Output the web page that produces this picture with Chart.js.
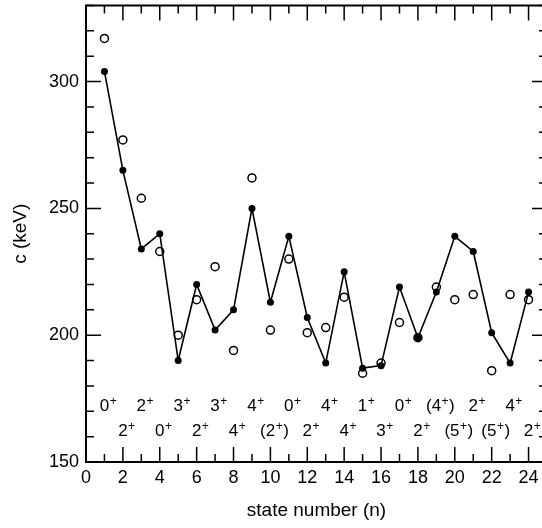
<!DOCTYPE html>
<html>
<head>
<meta charset="utf-8">
<script src="https://cdn.jsdelivr.net/npm/chart.js@4"></script>
<style>
  html, body { margin: 0; padding: 0; background: #fff; overflow: hidden; }
  #wrap { width: 560px; height: 528px; }
</style>
</head>
<body>
<div id="wrap"><canvas id="chart" width="560" height="528"></canvas></div>
<script>
// state numbers and the two sets of c values
const stateN = [1, 2, 3, 4, 5, 6, 7, 8, 9, 10, 11, 12, 13, 14, 15, 16, 17, 18, 19, 20, 21, 22, 23, 24];
const cFilled = [304, 265, 234, 240, 190, 220, 202, 210, 250, 213, 239, 207, 189, 225, 187, 188, 219, 199, 217, 239, 233, 201, 189, 217];
const cOpen = [317, 277, 254, 233, 200, 214, 227, 194, 262, 202, 230, 201, 203, 215, 185, 189, 205, 199, 219, 214, 216, 186, 216, 214];
// spin/parity of each state ('+' is drawn as superscript)
const spinLabels = ['0+', '2+', '2+', '0+', '3+', '2+', '3+', '4+', '4+', '(2+)', '0+', '2+',
  '4+', '4+', '1+', '3+', '0+', '2+', '(4+)', '(5+)', '2+', '(5+)', '4+', '2+'];
const xTicks = [0, 2, 4, 6, 8, 10, 12, 14, 16, 18, 20, 22, 24];
const yTicks = [150, 200, 250, 300];

const FONT = '"Liberation Sans", Arial, Helvetica, sans-serif';
Chart.defaults.font.family = FONT;
Chart.defaults.color = '#000';

// === spin labels under the curves ===
const spinPlugin = {
  id: 'spins',
  afterDatasetsDraw(chart) {
    const { ctx, scales: { x, y } } = chart;
    ctx.save();
    ctx.fillStyle = '#000';
    ctx.textBaseline = 'middle';
    ctx.textAlign = 'left';
    spinLabels.forEach((lab, i) => {
      const n = stateN[i];
      const px = x.getPixelForValue(n);
      const py = y.getPixelForValue(n % 2 ? 172 : 162);
      const d = lab.search(/\d/);
      ctx.font = '17px ' + FONT;
      let cx = px - ctx.measureText(lab.slice(0, d)).width - ctx.measureText(lab[d]).width / 2;
      for (const ch of lab) {
        if (ch === '+') {
          ctx.font = '12px ' + FONT;
          ctx.fillText('+', cx + 0.5, py - 5);
          cx += ctx.measureText('+').width + 1;
        } else {
          ctx.font = '17px ' + FONT;
          ctx.fillText(ch, cx, py);
          cx += ctx.measureText(ch).width;
        }
      }
    });
    ctx.restore();
  }
};

// === frame with inward ticks on all four sides ===
const framePlugin = {
  id: 'frame',
  afterDraw(chart) {
    const { ctx, chartArea: a, scales: { x, y } } = chart;
    ctx.save();
    ctx.strokeStyle = '#000';
    ctx.lineWidth = 1.5;
    ctx.beginPath();
    for (let v = x.min; v <= x.max; v++) {
      const px = x.getPixelForValue(v);
      const len = v % 2 === 0 ? 15 : 8;
      ctx.moveTo(px, a.bottom); ctx.lineTo(px, a.bottom - len);
      ctx.moveTo(px, a.top); ctx.lineTo(px, a.top + len);
    }
    for (let v = y.min; v <= y.max; v += 10) {
      const py = y.getPixelForValue(v);
      const len = v % 50 === 0 ? 15 : 8;
      ctx.moveTo(a.left, py); ctx.lineTo(a.left + len, py);
      ctx.moveTo(a.right, py); ctx.lineTo(a.right - len, py);
    }
    ctx.stroke();
    ctx.lineWidth = 2;
    ctx.strokeRect(a.left, a.top, a.right - a.left, a.bottom - a.top);
    ctx.restore();
  }
};

new Chart(document.getElementById('chart'), {
  type: 'scatter',
  data: {
    datasets: [
      {
        label: 'filled',
        data: stateN.map((n, i) => ({ x: n, y: cFilled[i] })),
        showLine: true,
        borderColor: '#000',
        borderWidth: 1.6,
        pointRadius: 3.5,
        pointBackgroundColor: '#000',
        pointBorderWidth: 0
      },
      {
        label: 'open',
        data: stateN.map((n, i) => ({ x: n, y: cOpen[i] })),
        showLine: false,
        pointRadius: 4,
        pointBackgroundColor: '#fff',
        pointBorderColor: '#000',
        pointBorderWidth: 1.5
      }
    ]
  },
  options: {
    responsive: false,
    animation: false,
    layout: { padding: { top: 1, right: 13, left: 0, bottom: 0 } },
    plugins: { legend: { display: false }, tooltip: { enabled: false } },
    scales: {
      x: {
        type: 'linear', min: 0, max: 25,
        grid: { display: false, drawTicks: false },
        border: { display: false },
        afterBuildTicks: s => { s.ticks = xTicks.map(v => ({ value: v })); },
        afterFit: s => { s.height = 66; s.paddingLeft = 0; s.paddingRight = 0; },
        ticks: { font: { size: 18 }, color: '#000', padding: 5, autoSkip: false, maxRotation: 0 },
        title: { display: true, text: 'state number (n)', font: { size: 19 }, color: '#000', padding: { top: 0, bottom: 6 } }
      },
      y: {
        type: 'linear', min: 150, max: 330,
        grid: { display: false, drawTicks: false },
        border: { display: false },
        afterBuildTicks: s => { s.ticks = yTicks.map(v => ({ value: v })); },
        afterFit: s => { s.width = 86; s.paddingTop = 0; s.paddingBottom = 0; },
        ticks: { font: { size: 18 }, color: '#000', padding: 7 },
        title: { display: true, text: 'c (keV)', font: { size: 19 }, color: '#000', padding: { top: 9, bottom: 0 } }
      }
    }
  },
  plugins: [spinPlugin, framePlugin]
});
</script>
</body>
</html>
